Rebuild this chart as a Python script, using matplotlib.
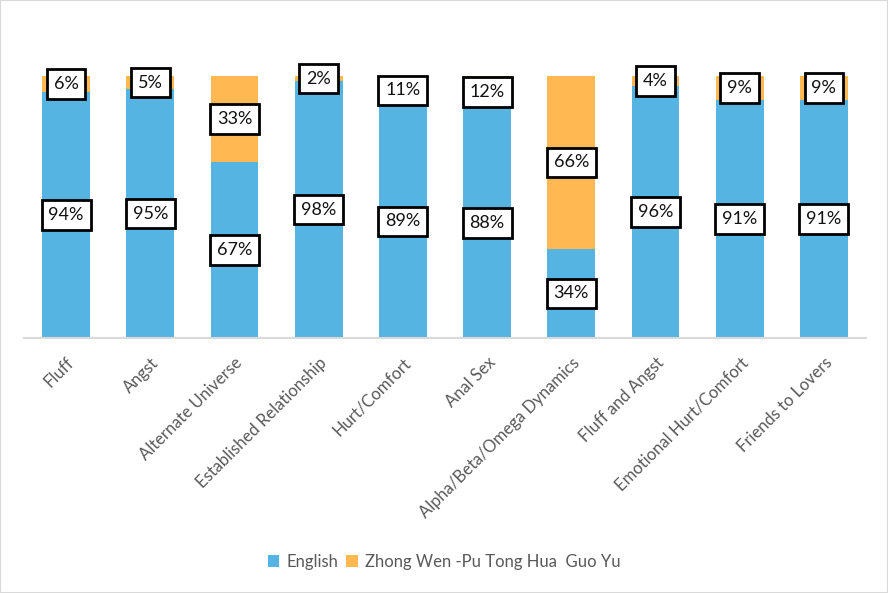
import numpy as np
import matplotlib as mpl
import matplotlib.pyplot as plt

mpl.rcParams['font.family'] = ['Lato', 'DejaVu Sans']

categories = ['Fluff', 'Angst', 'Alternate Universe', 'Established Relationship',
              'Hurt/Comfort', 'Anal Sex', 'Alpha/Beta/Omega Dynamics',
              'Fluff and Angst', 'Emotional Hurt/Comfort', 'Friends to Lovers']
english = [94, 95, 67, 98, 89, 88, 34, 96, 91, 91]
chinese = [6, 5, 33, 2, 11, 12, 66, 4, 9, 9]

blue = '#56B4E3'
orange = '#FFB852'
grey = '#595959'

fig = plt.figure(figsize=(8.88, 5.93), dpi=100)
ax = fig.add_axes([24/888, 1-338/593, 842/888, 262/593])

x = np.arange(len(categories))
en = np.array(english) / 100
zh = np.array(chinese) / 100
tot = en + zh
en_s = en / tot
zh_s = zh / tot
w = 0.57
ax.bar(x, en_s, w, color=blue, label='English')
ax.bar(x, zh_s, w, bottom=en_s, color=orange, label='Zhong Wen -Pu Tong Hua  Guo Yu')

box = dict(boxstyle='square,pad=0.38', fc='white', ec='black', lw=2)
for i in range(len(x)):
    ax.text(x[i], en_s[i]/2, f'{english[i]}%', ha='center', va='center',
            fontsize=13, bbox=box, color='#111111')
    ax.text(x[i], en_s[i] + zh_s[i]/2, f'{chinese[i]}%', ha='center', va='center',
            fontsize=13, bbox=box, color='#111111')

ax.set_xlim(-0.5, len(x) - 0.5)
ax.set_ylim(0, 1)
ax.set_yticks([])
ax.set_xticks(x)
ax.set_xticklabels(categories, rotation=45, ha='right', rotation_mode='anchor',
                   fontsize=12, color=grey)
ax.tick_params(axis='x', length=0, pad=12)
for s in ['top', 'right', 'left']:
    ax.spines[s].set_visible(False)
ax.spines['bottom'].set_color('#D9D9D9')
ax.spines['bottom'].set_linewidth(1.5)

fig.legend(loc='center', bbox_to_anchor=(0.5, 1-562/593), ncol=2, frameon=False,
           fontsize=12, labelcolor=grey, handlelength=0.7, handleheight=0.7,
           handletextpad=0.4, columnspacing=0.5)

fig.patches.append(plt.Rectangle((0, 0), 1, 1, transform=fig.transFigure,
                                 fill=False, ec='#D9D9D9', lw=1.5))

fig.savefig('out.png', dpi=100)
